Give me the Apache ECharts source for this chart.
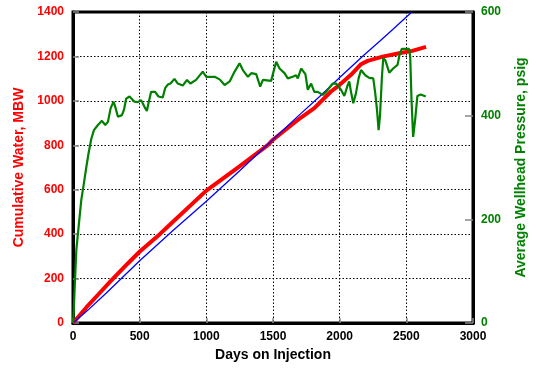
<!DOCTYPE html>
<html><head><meta charset="utf-8">
<script src="https://cdn.jsdelivr.net/npm/echarts@6/dist/echarts.min.js"></script>
<style>html,body{margin:0;padding:0;background:#fff}#c{width:536px;height:368px}</style>
</head><body><div id="c"></div>
<script>
// Cumulative water (MBW), left axis
const redDays = [0,50,100,200,277,411,501,651,750,1000,1249,1461,1500,1686,1810,1935,2000,2085,2160,2210,2322,2446,2544,2648];
const redVals = [0,35,70,135,185,268,322,400,456,596,705,801,825,914,967,1042,1072,1117,1165,1180,1199,1214,1225,1243];
// Reference line (MBW), left axis
const blueDays = [0,112,250,500,750,1000,1250,1500,1700,1850,2000,2185,2300,2400,2541];
const blueVals = [0,58,135,280,416,548,685,826,938,1020,1105,1208,1268,1322,1400];
// Average wellhead pressure (psig), right axis
const greenDays = [0,5,12,25,45,62,82,100,117,137,157,187,217,242,262,282,304,317,337,367,382,399,424,461,486,511,536,554,566,586,616,641,673,691,711,731,761,786,823,855,880,923,973,1000,1062,1100,1137,1175,1212,1249,1274,1312,1337,1374,1404,1424,1486,1504,1524,1549,1586,1611,1648,1673,1686,1711,1743,1761,1786,1810,1835,1873,1898,1948,1973,2010,2035,2060,2072,2085,2102,2122,2142,2160,2192,2222,2252,2267,2280,2292,2302,2317,2327,2342,2372,2401,2434,2451,2467,2521,2529,2539,2551,2566,2583,2608,2646];
const greenVals = [0,20,64,141,193,237,270,301,328,355,372,382,390,382,388,414,427,417,398,401,411,433,437,427,426,430,417,409,424,446,446,437,435,453,460,462,471,462,458,469,462,469,485,475,475,470,459,466,485,501,488,475,482,480,456,469,467,485,504,491,482,472,475,478,472,491,480,450,462,446,446,440,446,462,462,450,438,459,466,446,424,443,472,488,478,473,472,443,411,372,398,475,511,507,483,491,498,520,529,529,514,430,359,392,438,441,437];
const xTicks = [0,500,1000,1500,2000,2500,3000];

const zip = (a,b) => a.map((v,i)=>[v,b[i]]);
const plain = v => String(v);
const font = '"Liberation Sans", Arial, sans-serif';
const chart = echarts.init(document.getElementById('c'));
chart.setOption({
  animation:false,
  backgroundColor:'#fff',
  grid:{left:73, top:12, right:62, bottom:45, show:true, borderColor:'#000', borderWidth:3, containLabel:false},
  xAxis:{type:'value', min:xTicks[0], max:xTicks[xTicks.length-1], interval:500,
    name:'Days on Injection', nameLocation:'middle', nameGap:24,
    nameTextStyle:{fontFamily:font, fontWeight:'bold', fontSize:14, color:'#000'},
    axisLine:{show:true, lineStyle:{color:'#000', width:3}},
    axisTick:{show:true, inside:true, length:5, lineStyle:{color:'#888', width:1.5}},
    axisLabel:{fontFamily:font, fontWeight:'bold', fontSize:12, color:'#000', margin:8, formatter:plain},
    splitLine:{show:true, lineStyle:{color:'#000', type:[1.5,2], width:1}}
  },
  yAxis:[
    {type:'value', min:0, max:1400, interval:200, position:'left',
     name:'Cumulative Water, MBW', nameLocation:'middle', nameGap:46, nameRotate:90,
     nameTextStyle:{fontFamily:font, fontWeight:'bold', fontSize:14, color:'#ff0000'},
     axisLine:{show:true, lineStyle:{color:'#000', width:3}},
     axisTick:{show:true, inside:true, length:6, lineStyle:{color:'#888', width:1.5}},
     axisLabel:{fontFamily:font, fontWeight:'bold', fontSize:12, color:'#ff0000', margin:9, formatter:plain},
     splitLine:{show:true, lineStyle:{color:'#000', type:[1.5,2], width:1}}
    },
    {type:'value', min:0, max:600, interval:200, position:'right',
     name:'Average Wellhead Pressure, psig', nameLocation:'middle', nameGap:41, nameRotate:90,
     nameTextStyle:{fontFamily:font, fontWeight:'bold', fontSize:14, color:'#008000'},
     axisLine:{show:true, lineStyle:{color:'#000', width:3}},
     axisTick:{show:true, inside:true, length:8, lineStyle:{color:'#888', width:1.5}},
     axisLabel:{fontFamily:font, fontWeight:'bold', fontSize:12, color:'#008000', margin:8, formatter:plain},
     splitLine:{show:false}
    }
  ],
  series:[
    {type:'line', yAxisIndex:0, data:zip(redDays,redVals), showSymbol:false, symbol:'none',
     lineStyle:{color:'#ff0000', width:4}, z:2},
    {type:'line', yAxisIndex:0, data:zip(blueDays,blueVals), showSymbol:false, symbol:'none',
     lineStyle:{color:'#0000ff', width:1.3}, z:3},
    {type:'line', yAxisIndex:1, data:zip(greenDays,greenVals), showSymbol:false, symbol:'none',
     lineStyle:{color:'#008000', width:2.2}, z:4}
  ]
});
</script></body></html>
